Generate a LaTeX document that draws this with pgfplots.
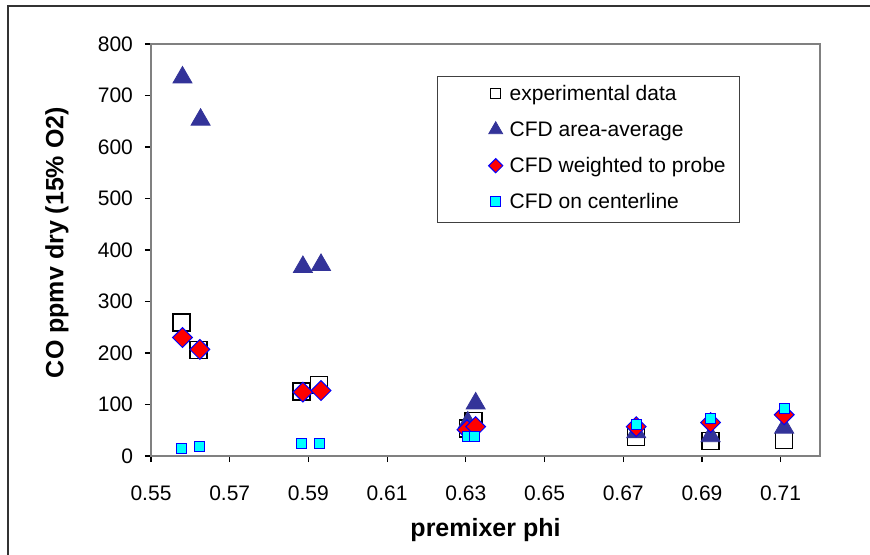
\documentclass[border=0pt]{standalone}
\usepackage{fontspec}
\setmainfont{Liberation Sans}
\usepackage{pgfplots}
\pgfplotsset{compat=1.18}
\definecolor{triblue}{HTML}{333399}
\definecolor{axgray}{HTML}{808080}
\definecolor{cyanfill}{HTML}{00FFFF}
\definecolor{redfill}{HTML}{FF0000}
\definecolor{blueedge}{HTML}{0000FF}
\begin{document}
\begin{tikzpicture}
\useasboundingbox (-75.5pt,-49.5pt) rectangle (359.5pt,228pt);
\draw[line width=1.1pt, black!80] (-71.5pt,-60pt) -- (-71.5pt,225pt) -- (370pt,225pt);
\begin{axis}[
  at={(0pt,0pt)}, anchor=south west,
  scale only axis, width=334.5pt, height=206pt,
  xmin=0.55, xmax=0.72, ymin=0, ymax=800,
  xtick={0.55,0.57,0.59,0.61,0.63,0.65,0.67,0.69,0.71},
  ytick={0,100,200,300,400,500,600,700,800},
  xtick pos=bottom, ytick pos=left,
  tick align=outside, major tick length=3pt,
  tick style={black, line width=0.6pt},
  axis line style={axgray, line width=1pt},
  /pgf/number format/assume math mode=true,
  yticklabel shift=2.5pt,
  xticklabel style={font=\fontsize{10.5}{12}\selectfont, anchor=center, yshift=-15.5pt, /pgf/number format/.cd, fixed, fixed zerofill, precision=2},
  yticklabel style={font=\fontsize{10.5}{12}\selectfont},
  xlabel={premixer phi},
  ylabel={CO ppmv dry (15\% O2)},
  xlabel style={at={(axis description cs:0.5,-0.1796)}, anchor=center, font=\fontsize{12.5}{15}\selectfont\bfseries},
  ylabel style={at={(axis description cs:-0.1405,0.518)}, anchor=center, font=\fontsize{12.5}{15}\selectfont\bfseries},
  legend style={at={(axis description cs:0.4275,0.9223)}, anchor=north west,
    draw=black!75, line width=0.7pt, inner xsep=7pt, inner ysep=4.5pt,
    row sep=8pt, column sep=3pt,
    nodes={inner sep=0pt, text height=7.5pt, text depth=2.5pt, font=\fontsize{10.5}{12}\selectfont}},
  legend cell align=left,
  legend image code/.code={\path[draw=none,fill=none] (-22pt,-3pt) rectangle (4pt,3pt); \draw[#1] plot coordinates {(0pt,1pt)};},
]
\addplot[only marks, mark=square, mark size=4.25pt, mark options={draw=black, line width=0.75pt},
  legend image post style={mark size=2.5pt}] coordinates {
  (0.5577,259) (0.5621,206) (0.5883,125) (0.5927,138) (0.6306,53) (0.6319,68)
  (0.6733,37) (0.6922,29) (0.7109,31.5)};
\addlegendentry{experimental data}
\addplot[only marks, mark=triangle*, mark size=5.5pt, mark options={draw=triblue, fill=triblue, line width=0.4pt},
  legend image post style={mark size=4pt}] coordinates {
  (0.558,735) (0.5626,653) (0.5886,367) (0.5932,371) (0.6305,65) (0.6325,102)
  (0.6733,46) (0.6922,38.5) (0.7109,55)};
\addlegendentry{CFD area-average}
\addplot[only marks, mark=square*, mark size=3.5pt, mark options={rotate=45, draw=blueedge, fill=redfill, line width=0.5pt},
  legend image post style={mark size=2.5pt}] coordinates {
  (0.558,230) (0.5624,207) (0.5886,124) (0.5932,127) (0.6303,51) (0.6325,57)
  (0.6733,57) (0.6922,65) (0.7109,80)};
\addlegendentry{CFD weighted to probe}
\addplot[only marks, mark=square*, mark size=2.5pt, mark options={draw=blueedge, fill=cyanfill, line width=0.5pt},
  legend image post style={mark size=2.6pt}] coordinates {
  (0.5577,13.6) (0.5622,18) (0.5883,24.6) (0.5929,24) (0.6303,37) (0.6322,37)
  (0.6733,61.5) (0.6922,73) (0.7109,92.7)};
\addlegendentry{CFD on centerline}
\end{axis}
\end{tikzpicture}
\end{document}
